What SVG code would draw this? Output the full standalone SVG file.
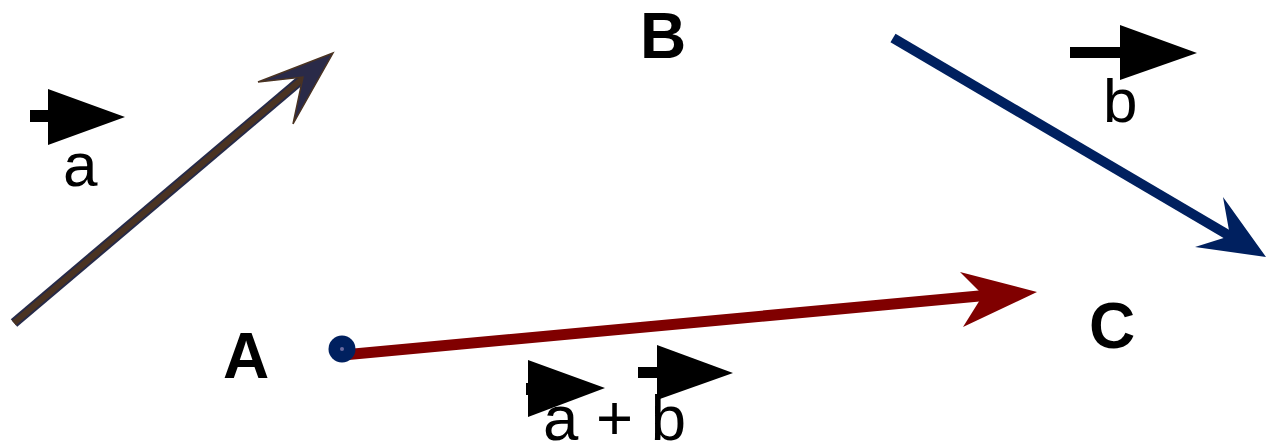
<svg xmlns="http://www.w3.org/2000/svg" width="1266" height="443" viewBox="0 0 1266 443">
<style>
.lbl{font-family:"Liberation Sans",Arial,sans-serif;font-size:64px;font-weight:bold;fill:#000}
.vl{font-family:"Liberation Sans",Arial,sans-serif;font-size:62px;fill:#000}
.va{fill:#000}
</style>
<rect width="1266" height="443" fill="#fff"/>
<g id="connectors">
<g id="vec-a">
<line x1="14" y1="323" x2="308" y2="74" stroke="#262a48" stroke-width="10"/>
<line x1="14" y1="323" x2="308" y2="74" stroke="#4a3322" stroke-width="6"/>
<polygon points="333,53 258,82 303,77 293,124" fill="#2a2a48" stroke="#4a3322" stroke-width="1.5" stroke-linejoin="miter"/>
</g>
<g id="vec-b">
<line x1="893" y1="38" x2="1235" y2="239" stroke="#00205f" stroke-width="10"/>
<polygon points="1266,257 1223,197 1230,236 1195,247" fill="#00205f"/>
</g>
<g id="vec-ab">
<line x1="343" y1="355" x2="990" y2="295" stroke="#800000" stroke-width="11"/>
<polygon points="1037,292 960,272 983,295 963,327" fill="#800000"/>
</g>
</g>
<g id="node-A">
<circle cx="342" cy="349" r="13.5" fill="#00205f"/>
<circle cx="342" cy="349" r="2" fill="#6a6aa0"/>
<text class="lbl" x="223" y="378">A</text>
</g>
<g id="node-B">
<text class="lbl" x="640" y="58">B</text>
</g>
<g id="node-C">
<text class="lbl" x="1089" y="348">C</text>
</g>
<g id="label-a">
<rect class="va" x="30" y="110" width="20" height="12"/>
<polygon class="va" points="48,89 48,145 125,117"/>
<text class="vl" x="63" y="186">a</text>
</g>
<g id="label-b">
<rect class="va" x="1070" y="47" width="52" height="11"/>
<polygon class="va" points="1120,25 1120,80 1197,53"/>
<text class="vl" x="1103" y="122">b</text>
</g>
<g id="label-ab">
<rect class="va" x="526" y="383" width="5" height="12"/>
<polygon class="va" points="528,360 528,417 605,388"/>
<rect class="va" x="638" y="367" width="21" height="11"/>
<polygon class="va" points="657,345 657,400 733,373"/>
<text class="vl" x="543" y="440" style="font-size:63.5px">a + b</text>
</g>
</svg>
